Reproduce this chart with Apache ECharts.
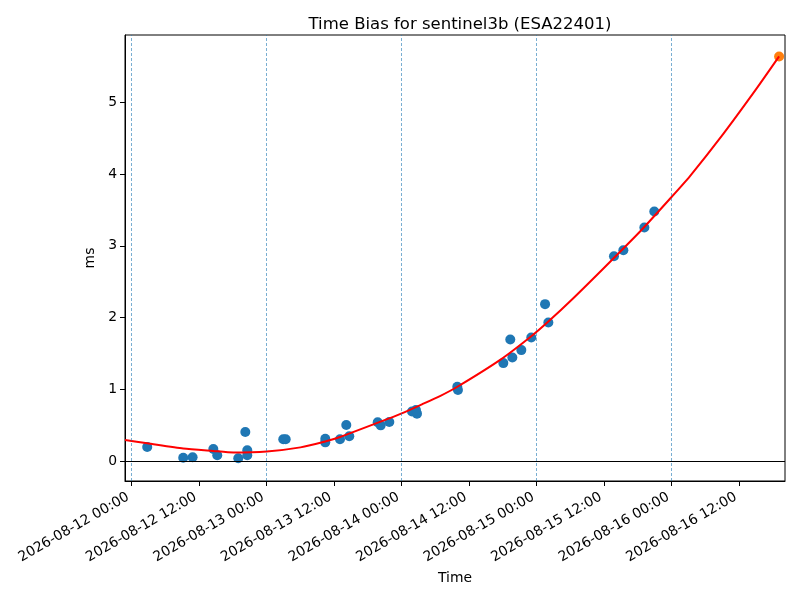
<!DOCTYPE html>
<html>
<head>
<meta charset="utf-8">
<title>Time Bias for sentinel3b</title>
<script src="https://cdn.jsdelivr.net/npm/echarts@6/dist/echarts.min.js"></script>
<style>
    html, body { margin: 0; padding: 0; background: #fff; }
    #main { width: 800px; height: 600px; }
</style>
</head>
<body>
<div id="main"></div>
<script>
// observed time bias (UTC timestamps, ms)
var obsTimes = [
    '2026-08-12 02:46', '2026-08-12 09:10', '2026-08-12 10:50', '2026-08-12 14:31',
    '2026-08-12 15:13', '2026-08-12 18:57', '2026-08-12 20:12', '2026-08-12 20:33',
    '2026-08-12 20:33', '2026-08-13 02:57', '2026-08-13 03:23', '2026-08-13 10:25',
    '2026-08-13 10:25', '2026-08-13 13:02', '2026-08-13 14:09', '2026-08-13 14:41',
    '2026-08-13 19:44', '2026-08-13 20:16', '2026-08-13 21:48', '2026-08-14 01:50',
    '2026-08-14 02:32', '2026-08-14 02:43', '2026-08-14 09:53', '2026-08-14 10:00',
    '2026-08-14 18:04', '2026-08-14 19:18', '2026-08-14 19:40', '2026-08-14 21:16',
    '2026-08-14 23:02', '2026-08-15 01:29', '2026-08-15 02:04', '2026-08-15 13:44',
    '2026-08-15 15:24', '2026-08-15 19:08', '2026-08-15 20:54'
];
var obsBias = [
    0.195, 0.046, 0.052, 0.167,
    0.079, 0.038, 0.404, 0.149,
    0.079, 0.302, 0.302, 0.311,
    0.260, 0.302, 0.501, 0.344,
    0.539, 0.497, 0.543, 0.689,
    0.710, 0.660, 1.035, 0.989,
    1.365, 1.695, 1.444, 1.546,
    1.723, 2.187, 1.932, 2.855,
    2.939, 3.255, 3.478
];

// fitted curve
var fitTimes = [
    '2026-08-11 22:49', '2026-08-12 02:46', '2026-08-12 09:10', '2026-08-12 14:30',
    '2026-08-12 18:04', '2026-08-13 00:00', '2026-08-13 06:00', '2026-08-13 10:24',
    '2026-08-13 13:02', '2026-08-13 20:08', '2026-08-14 00:00', '2026-08-14 03:36',
    '2026-08-14 06:48', '2026-08-14 09:54', '2026-08-14 17:30', '2026-08-14 23:02',
    '2026-08-15 02:04', '2026-08-15 06:30', '2026-08-15 12:26', '2026-08-15 18:22',
    '2026-08-15 23:46', '2026-08-16 03:15', '2026-08-16 09:10', '2026-08-16 15:06',
    '2026-08-16 19:05'
];
var fitBias = [
    0.292, 0.248, 0.175, 0.140,
    0.118, 0.132, 0.190, 0.272,
    0.335, 0.545, 0.664, 0.790,
    0.905, 1.035, 1.410, 1.740,
    1.945, 2.270, 2.730, 3.200,
    3.664, 3.973, 4.561, 5.195,
    5.641
];

// predicted point
var predTime = '2026-08-16 19:05';
var predBias = 5.641;

// axis
var tickLabels = [
    '2026-08-12 00:00', '2026-08-12 12:00', '2026-08-13 00:00', '2026-08-13 12:00',
    '2026-08-14 00:00', '2026-08-14 12:00', '2026-08-15 00:00', '2026-08-15 12:00',
    '2026-08-16 00:00', '2026-08-16 12:00'
];
var dayLines = ['2026-08-12 00:00', '2026-08-13 00:00', '2026-08-14 00:00', '2026-08-15 00:00', '2026-08-16 00:00'];
var yTicks = [0, 1, 2, 3, 4, 5];
var xMin = '2026-08-11 22:49';
var xMax = '2026-08-16 20:08';

function toMs(s) {
    var p = s.split(/[- :]/);
    return Date.UTC(+p[0], +p[1] - 1, +p[2], +p[3], +p[4]);
}

function pairs(times, vals) {
    var arr = [];
    for (var i = 0; i < times.length; i++) {
        arr.push([toMs(times[i]), vals[i]]);
    }
    return arr;
}

var labelByMs = {};
var tickMs = tickLabels.map(function (t) {
    var v = toMs(t);
    labelByMs[v] = t;
    return v;
});

var font = 'DejaVu Sans';
var chart = echarts.init(document.getElementById('main'));
var option = {
    animation: false,
    textStyle: {fontFamily: font},
    title: {
        text: 'Time Bias for sentinel3b (ESA22401)',
        left: 455,
        top: 11,
        textAlign: 'center',
        textStyle: {fontFamily: font, fontSize: 16.5, fontWeight: 'normal', color: '#000'}
    },
    grid: {
        left: 125, right: 15, top: 35, bottom: 119,
        show: true, borderColor: '#000', borderWidth: 1
    },
    xAxis: {
        type: 'value',
        min: toMs(xMin),
        max: toMs(xMax),
        name: 'Time',
        nameLocation: 'middle',
        nameGap: 89,
        nameTextStyle: {fontFamily: font, fontSize: 13.9, color: '#000'},
        axisLine: {onZero: false, lineStyle: {color: '#000', width: 1}},
        axisTick: {show: true, customValues: tickMs, length: 5, lineStyle: {color: '#000'}},
        axisLabel: {
            customValues: tickMs,
            rotate: 30,
            margin: 13,
            padding: [0, 4, 0, 0],
            fontFamily: font,
            fontSize: 13.9,
            color: '#000',
            formatter: function (v) { return labelByMs[v] || ''; }
        },
        splitLine: {show: false}
    },
    yAxis: {
        type: 'value',
        min: -0.279,
        max: 5.94,
        name: 'ms',
        nameLocation: 'middle',
        nameRotate: 90,
        nameGap: 24,
        nameTextStyle: {fontFamily: font, fontSize: 13.9, color: '#000'},
        axisLine: {show: true, onZero: false, lineStyle: {color: '#000', width: 1}},
        axisTick: {show: true, customValues: yTicks, length: 5, lineStyle: {color: '#000'}},
        axisLabel: {customValues: yTicks, margin: 8, fontFamily: font, fontSize: 13.9, color: '#000'},
        splitLine: {show: false}
    },
    series: [
        {
            name: 'fit',
            type: 'line',
            smooth: 0.2,
            showSymbol: false,
            data: pairs(fitTimes, fitBias),
            lineStyle: {color: '#ff0000', width: 2},
            markLine: {
                silent: true,
                symbol: 'none',
                label: {show: false},
                data: dayLines.map(function (d) {
                    return {xAxis: toMs(d), lineStyle: {color: '#1f77b4', width: 0.6, type: [3, 2]}};
                }).concat([{yAxis: 0, lineStyle: {color: '#000', width: 1, type: 'solid'}}])
            }
        },
        {
            name: 'obs',
            type: 'scatter',
            symbolSize: 10,
            data: pairs(obsTimes, obsBias),
            itemStyle: {color: '#1f77b4', opacity: 1}
        },
        {
            name: 'pred',
            type: 'scatter',
            symbolSize: 10,
            data: [[toMs(predTime), predBias]],
            itemStyle: {color: '#ff7f0e', opacity: 1}
        }
    ]
};
chart.setOption(option, true);
</script>
</body>
</html>
